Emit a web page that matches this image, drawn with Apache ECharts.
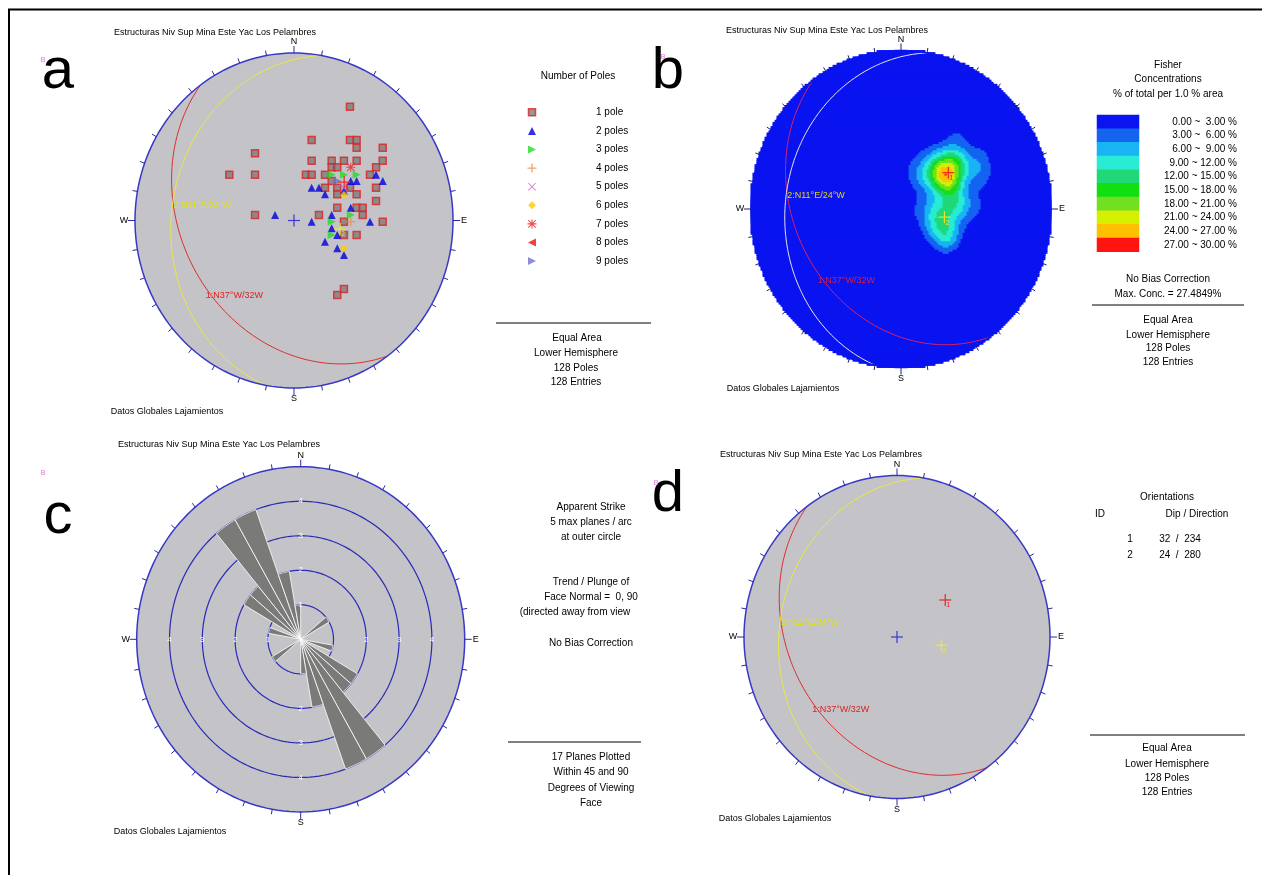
<!DOCTYPE html>
<html><head><meta charset="utf-8">
<script src="https://cdn.jsdelivr.net/npm/echarts@6/dist/echarts.min.js"></script>
<style>html,body{margin:0;padding:0;background:#fff}#c{width:1262px;height:875px}</style>
</head><body><div id="c"></div><script>
// ---------------- DATA ----------------
// pole positions, normalised equal-area projection coords (x east, y north), grouped by number of poles
const poles1 = [[0.352,0.679],[0.111,0.481],[0.352,0.481],[0.394,0.481],[0.394,0.435],[0.558,0.435],[-0.245,0.401],
 [0.111,0.357],[0.237,0.357],[0.314,0.357],[0.394,0.357],[0.558,0.357],[0.237,0.318],[0.272,0.318],[0.516,0.318],
 [-0.407,0.273],[-0.245,0.273],[0.075,0.273],[0.111,0.273],[0.195,0.273],[0.478,0.273],[0.237,0.236],[0.352,0.196],
 [0.195,0.196],[0.272,0.196],[0.516,0.196],[0.272,0.156],[0.394,0.156],[0.516,0.116],[0.272,0.076],[0.394,0.076],
 [0.432,0.076],[-0.245,0.033],[0.157,0.033],[0.432,0.033],[0.314,-0.007],[0.558,-0.007],[0.314,-0.087],[0.394,-0.087],
 [0.314,-0.409],[0.272,-0.445]];
const poles2 = [[0.516,0.273],[0.558,0.236],[0.111,0.196],[0.157,0.196],[0.195,0.156],[0.357,0.236],[0.394,0.236],
 [0.357,0.076],[-0.119,0.033],[0.237,0.033],[0.111,-0.007],[0.478,-0.007],[0.237,-0.047],[0.272,-0.087],[0.195,-0.127],
 [0.272,-0.166],[0.314,-0.206],[0.314,0.176]];
const poles3 = [[0.237,0.273],[0.314,0.273],[0.394,0.273],[0.357,0.033],[0.237,-0.007],[0.237,-0.087]];
const poles4 = [[0.357,-0.007]];
const poles5 = [[0.314,0.194]];
const poles6 = [[0.314,0.152],[0.314,-0.166]];
const poles7 = [[0.357,0.318]];
const poles8 = [];
const poles9 = [[0.272,0.236]];
const poleLegendLabels = ['1 pole','2 poles','3 poles','4 poles','5 poles','6 poles','7 poles','8 poles','9 poles'];

// planes (dip / dip direction)
const planeIds = [1, 2];
const planeDips = [32, 24];
const planeDirs = [234, 280];
const planeLabels = ['1:N37°W/32W', '2:N11°E/24°W'];

// Fisher concentration classes
const concLevels = [0,3,6,9,12,15,18,21,24,27,30];
const concLabels = ['0.00 ~  3.00 %','3.00 ~  6.00 %','6.00 ~  9.00 %','9.00 ~ 12.00 %','12.00 ~ 15.00 %',
 '15.00 ~ 18.00 %','18.00 ~ 21.00 %','21.00 ~ 24.00 %','24.00 ~ 27.00 %','27.00 ~ 30.00 %'];
const concColors = ['#0a14f0','#1464f0','#18b4f4','#28ecd4','#20d878','#10e010','#70e020','#d4f000','#ffc000','#ff1410'];
const fisherK = 120;

// rose diagram (apparent strike, 10 deg bins, bidirectional)
const roseBinStart = [280,300,310,320,330,340,350,50];
const roseCounts   = [1,2,2,4,4,2,1,1];
const roseBinWidth = 10;
const roseMax = 5;
const roseRingValues = [1,2,3,4];

// ---------------- helpers ----------------
const rad = Math.PI/180;
const FONT = '"Liberation Sans", Arial, sans-serif';
function proj(trend, plunge){ const th=(90-plunge)*rad; const r=Math.SQRT2*Math.sin(th/2); return [r*Math.sin(trend*rad), r*Math.cos(trend*rad)]; }
function greatCircle(dd, dip){
  const pts=[], s=(dd-90)*rad, d=dd*rad, dp=dip*rad;
  for(let a=0;a<=180;a+=1){ const ar=a*rad;
    const vn=Math.cos(ar)*Math.cos(s)+Math.sin(ar)*Math.cos(dp)*Math.cos(d);
    const ve=Math.cos(ar)*Math.sin(s)+Math.sin(ar)*Math.cos(dp)*Math.sin(d);
    const vd=Math.sin(ar)*Math.sin(dp);
    pts.push(proj(Math.atan2(ve,vn)/rad, Math.asin(Math.min(1,vd))/rad)); }
  return pts;
}
function toVec(p){ const x=p[0],y=p[1]; const r=Math.hypot(x,y); if(r<1e-9) return [0,0,1];
  const th=2*Math.asin(Math.min(1,r/Math.SQRT2)); const s=Math.sin(th); return [s*x/r, s*y/r, Math.cos(th)]; }
const poleGroups=[poles1,poles2,poles3,poles4,poles5,poles6,poles7,poles8,poles9];
const allPoles=[]; poleGroups.forEach((g,i)=>g.forEach(p=>allPoles.push({v:toVec(p),w:i+1})));
const Ntot = allPoles.reduce((s,p)=>s+p.w,0);
function density(v){ let s=0; for(const p of allPoles){ const c=v[0]*p.v[0]+v[1]*p.v[1]+v[2]*p.v[2];
  s+=p.w*(Math.exp(fisherK*(c-1))+Math.exp(fisherK*(-c-1))); } return fisherK*s/Ntot; }

const CIRC = Array.from({length:181},(_,i)=>[Math.sin(i*2*rad), Math.cos(i*2*rad)]);
const TICK_ANGLES = Array.from({length:36},(_,i)=>i*10);
const CARD = ['N','E','S','W'];

const PANELS = {
  a:{cx:294, cy:220.5, rx:159, ry:167.5},
  b:{cx:901, cy:209, rx:150, ry:158.5},
  c:{cx:300.7, cy:639.3, rx:164, ry:172.6},
  d:{cx:897, cy:637, rx:153, ry:161.5}
};
const grids=[], xAxes=[], yAxes=[], series=[];
function addValueGrid(p){ const gi=grids.length;
  grids.push({left:p.cx-p.rx, top:p.cy-p.ry, width:2*p.rx, height:2*p.ry});
  xAxes.push({type:'value',gridIndex:gi,min:-1,max:1,show:false});
  yAxes.push({type:'value',gridIndex:gi,min:-1,max:1,show:false}); return gi; }
function cs(gi, data, renderItem, z){ return {type:'custom', coordinateSystem:'cartesian2d', xAxisIndex:gi, yAxisIndex:gi, data, renderItem, z, silent:true, animation:false}; }
function txtStyle(text, color, size, align, valign){ return {text, fill:color, font:size+'px '+FONT, align, verticalAlign:valign, textAlign:align, textVerticalAlign:valign}; }

function circleFill(gi, fill){ series.push(cs(gi,[[0,0]],(p,api)=>({type:'polygon',shape:{points:CIRC.map(q=>api.coord(q))},style:{fill}}),1)); }
function circleOutline(gi, stroke, lw){ series.push(cs(gi,[[0,0]],(p,api)=>({type:'polygon',shape:{points:CIRC.map(q=>api.coord(q))},style:{fill:'none',stroke,lineWidth:lw}}),8)); }
function ticks(gi, stroke){
  series.push(cs(gi, TICK_ANGLES.map(a=>[a,0]), (params,api)=>{
    const ang=api.value(0), a=ang*rad, c0=api.coord([0,0]), pt=api.coord([Math.sin(a),Math.cos(a)]);
    const dx=pt[0]-c0[0], dy=pt[1]-c0[1], L=Math.hypot(dx,dy), len=(ang%90===0)?7:5;
    return {type:'line',shape:{x1:pt[0],y1:pt[1],x2:pt[0]+dx/L*len,y2:pt[1]+dy/L*len},style:{stroke,lineWidth:1}};
  },8));
  series.push(cs(gi, [[0,0],[90,0],[180,0],[270,0]], (params,api)=>{
    const a=api.value(0)*rad, c0=api.coord([0,0]), pt=api.coord([Math.sin(a),Math.cos(a)]);
    const dx=pt[0]-c0[0], dy=pt[1]-c0[1], L=Math.hypot(dx,dy);
    return {type:'text', x:pt[0]+dx/L*11, y:pt[1]+dy/L*11, style:txtStyle(CARD[params.dataIndex],'#000',9,'center','middle')};
  },8));
}
function planes(gi, colors, labelColors){
  planeDips.forEach((dip,i)=>{
    series.push({type:'line', xAxisIndex:gi, yAxisIndex:gi, data:greatCircle(planeDirs[i],dip), showSymbol:false, symbol:'none',
      lineStyle:{color:colors[i],width:1}, z:5, silent:true, clip:false, animation:false});
  });
  series.push(cs(gi, planeDips.map((dip,i)=>proj(planeDirs[i],dip)), (params,api)=>{
    const pt=api.coord([api.value(0),api.value(1)]);
    return {type:'text', x:pt[0], y:pt[1]+3, style:txtStyle(planeLabels[params.dataIndex], labelColors[params.dataIndex], 9, 'left','top')};
  },7));
}
function crosses(gi, colors, withCenter, centerColor){
  const pts = planeDips.map((dip,i)=>proj((planeDirs[i]+180)%360, 90-dip));
  series.push(cs(gi, pts, (params,api)=>{
    const c=api.coord([api.value(0),api.value(1)]), col=colors[params.dataIndex];
    return {type:'group', children:[
      {type:'line',shape:{x1:c[0]-6,y1:c[1],x2:c[0]+6,y2:c[1]},style:{stroke:col,lineWidth:1.2}},
      {type:'line',shape:{x1:c[0],y1:c[1]-6,x2:c[0],y2:c[1]+6},style:{stroke:col,lineWidth:1.2}},
      {type:'text',x:c[0]+1,y:c[1]+2,style:txtStyle(String(planeIds[params.dataIndex]),col,7,'left','top')}]};
  },9));
  if(withCenter) series.push(cs(gi, [[0,0]], (params,api)=>{ const c=api.coord([0,0]);
    return {type:'group',children:[
      {type:'line',shape:{x1:c[0]-6,y1:c[1],x2:c[0]+6,y2:c[1]},style:{stroke:centerColor,lineWidth:1.2}},
      {type:'line',shape:{x1:c[0],y1:c[1]-6,x2:c[0],y2:c[1]+6},style:{stroke:centerColor,lineWidth:1.2}}]}; },9));
}

// marker styles for number of poles
const PLUS='path://M4.3,0H5.7V10H4.3Z M0,4.3H10V5.7H0Z';
const XMARK='path://M0.8,0L10,9.2L9.2,10L0,0.8Z M9.2,0L10,0.8L0.8,10L0,9.2Z';
const AST='path://M4.4,0H5.6V10H4.4Z M0,4.4H10V5.6H0Z M1.2,0.4L9.6,8.8L8.8,9.6L0.4,1.2Z M8.8,0.4L9.6,1.2L1.2,9.6L0.4,8.8Z';
const markerStyles = [
  {symbol:'rect', size:7, color:'#7d7d7d', border:'#dd2222', bw:1.5},
  {symbol:'triangle', size:8, color:'#0000dd'},
  {symbol:'triangle', size:8, rotate:-90, color:'#22dd22'},
  {symbol:PLUS, size:9, color:'#f08848'},
  {symbol:XMARK, size:8, color:'#cc55cc'},
  {symbol:'diamond', size:8, color:'#ffcc00'},
  {symbol:AST, size:9, color:'#ee2222'},
  {symbol:'triangle', size:8, rotate:90, color:'#ee1111'},
  {symbol:'triangle', size:8, rotate:-90, color:'#7272cc'}
];
function mStyle(m){ return {color:m.color, borderColor:m.border||m.color, borderWidth:m.bw||0}; }

// ---------------- PANEL A ----------------
const gA = addValueGrid(PANELS.a);
circleFill(gA,'#c4c3c8');
planes(gA, ['#e02a2a','#eaea40'], ['#dd2222','#e4e400']);
poleGroups.forEach((g,i)=>{ const m=markerStyles[i];
  series.push({type:'scatter', xAxisIndex:gA, yAxisIndex:gA, data:g, symbol:m.symbol, symbolSize:m.size, symbolRotate:m.rotate||0,
    symbolKeepAspect:true, itemStyle:mStyle(m), z:6, silent:true, animation:false}); });
crosses(gA, ['#ee2222','#eaea30'], true, '#3a3ad0');
circleOutline(gA,'#3838c8',1.5);
ticks(gA,'#2a2aa0');

// legend grid for panel a
const gAL = grids.length;
grids.push({left:527, top:103, width:10, height:167.4});
xAxes.push({type:'category', gridIndex:gAL, data:['m'], show:false});
yAxes.push({type:'category', gridIndex:gAL, data:poleLegendLabels, inverse:true, position:'right',
  axisLine:{show:false}, axisTick:{show:false}, splitLine:{show:false},
  axisLabel:{align:'left', margin:59, fontSize:10, color:'#000', fontFamily:FONT}});
series.push({type:'scatter', xAxisIndex:gAL, yAxisIndex:gAL, silent:true, animation:false,
  data: poleLegendLabels.map((l,i)=>({value:[0,i], symbol:markerStyles[i].symbol, symbolSize:markerStyles[i].size,
    symbolRotate:markerStyles[i].rotate||0, symbolKeepAspect:true, itemStyle:mStyle(markerStyles[i])}))});

// ---------------- PANEL B ----------------
const NB = 150, CELL = 2/NB;
const heatData=[];
for(let j=0;j<NB;j++){ const y=-1+(j+0.5)*CELL; for(let i=0;i<NB;i++){ const x=-1+(i+0.5)*CELL;
  if(x*x+y*y>1.012) continue; heatData.push([x,y,density(toVec([x,y]))]); } }
const gB = addValueGrid(PANELS.b);
const sHeat = series.length;
series.push({type:'custom', coordinateSystem:'cartesian2d', xAxisIndex:gB, yAxisIndex:gB, data:heatData, silent:true,
  animation:false, progressive:0, z:1,
  renderItem:(params,api)=>{ const c=api.coord([api.value(0),api.value(1)]); const s=api.size([CELL,CELL]);
    return {type:'rect', shape:{x:c[0]-s[0]/2-0.45, y:c[1]-s[1]/2-0.45, width:s[0]+0.9, height:s[1]+0.9}, style:{fill:api.visual('color')}}; }});
planes(gB, ['#dd2060','#e8e8e8'], ['#d02050','#e8d800']);
crosses(gB, ['#ee2222','#e4e430'], false);
circleOutline(gB,'#0a14f0',1.5);
ticks(gB,'#1c1c70');
// concentration legend
const gBL = grids.length;
grids.push({left:1097, top:115, width:42, height:136.7});
xAxes.push({type:'category', gridIndex:gBL, data:[''], show:false});
yAxes.push({type:'category', gridIndex:gBL, data:concLabels, inverse:true, position:'right',
  axisLine:{show:false}, axisTick:{show:false}, splitLine:{show:false},
  axisLabel:{align:'right', margin:98, fontSize:10, color:'#000', fontFamily:FONT}});
const sHeatLeg = series.length;
series.push({type:'heatmap', xAxisIndex:gBL, yAxisIndex:gBL, silent:true, animation:false, progressive:0,
  data: concLabels.map((l,i)=>[0,i,(concLevels[i]+concLevels[i+1])/2]), itemStyle:{borderWidth:0}});

// ---------------- PANEL C (rose) ----------------
const gC = addValueGrid(PANELS.c);
circleFill(gC,'#c4c3c8');
series.push(cs(gC, roseRingValues.map(v=>[v,0]), (params,api)=>{ const r=api.value(0)/roseMax;
  return {type:'polygon',shape:{points:CIRC.map(q=>api.coord([q[0]*r,q[1]*r]))},style:{fill:'none',stroke:'#2a2ab8',lineWidth:1.2}}; },2));
const roseData=[];
roseBinStart.forEach((s,i)=>{ roseData.push([s, s+roseBinWidth, roseCounts[i]]); roseData.push([(s+180)%360, (s+180)%360+roseBinWidth, roseCounts[i]]); });
series.push(cs(gC, roseData, (params,api)=>{
  const a1=api.value(0), a2=api.value(1), r=api.value(2)/roseMax; const pts=[api.coord([0,0])];
  for(let k=0;k<=12;k++){ const a=(a1+(a2-a1)*k/12)*rad; pts.push(api.coord([r*Math.sin(a), r*Math.cos(a)])); }
  return {type:'polygon',shape:{points:pts},style:{fill:'#7a7b79',stroke:'#ffffff',lineWidth:0.8}}; },3));
// ring labels: [value, direction(0=N,1=E,2=S,3=W)]
const ringLabelPos=[];
[[0,[1,2,3,4]],[1,[2,3,4]],[2,[2,3,4]],[3,[1,2,3,4]]].forEach(([dir,vals])=>vals.forEach(v=>ringLabelPos.push([v,dir])));
series.push(cs(gC, ringLabelPos, (params,api)=>{ const v=api.value(0), dir=api.value(1), a=dir*90*rad, r=v/roseMax;
  const pt=api.coord([r*Math.sin(a), r*Math.cos(a)]);
  return {type:'text', x:pt[0], y:pt[1], style:txtStyle(String(v),'#ffffff',8,'center','middle')}; },4));
circleOutline(gC,'#3838c8',1.5);
ticks(gC,'#2a2aa0');

// ---------------- PANEL D ----------------
const gD = addValueGrid(PANELS.d);
circleFill(gD,'#c4c3c8');
planes(gD, ['#e02a2a','#eaea40'], ['#dd2222','#e4e400']);
crosses(gD, ['#ee2222','#eaea30'], true, '#3a3ad0');
circleOutline(gD,'#3838c8',1.5);
ticks(gD,'#2a2aa0');

// ---------------- TEXT ----------------
const TITLE='Estructuras Niv Sup Mina Este Yac Los Pelambres', FOOT='Datos Globales Lajamientos';
const texts = [
  [TITLE,215,33,9],[TITLE,827,31,9],[TITLE,219,445,9],[TITLE,821,455,9],
  [FOOT,167,412,9],[FOOT,783,389,9],[FOOT,170,832,9],[FOOT,775,819,9],
  ['Number of Poles',578,76,10],['Equal Area',577,338,10],['Lower Hemisphere',576,353,10],['128 Poles',576,368,10],['128 Entries',576,382,10],
  ['Fisher',1168,65,10],['Concentrations',1168,79,10],['% of total per 1.0 % area',1168,94,10],
  ['No Bias Correction',1168,279,10],['Max. Conc. = 27.4849%',1168,294,10],
  ['Equal Area',1168,320,10],['Lower Hemisphere',1168,335,10],['128 Poles',1168,348,10],['128 Entries',1168,362,10],
  ['Apparent Strike',591,507,10],['5 max planes / arc',591,522,10],['at outer circle',591,537,10],
  ['Trend / Plunge of',591,582,10],['Face Normal =  0, 90',591,597,10],['(directed away from view',575,612,10],
  ['No Bias Correction',591,643,10],['17 Planes Plotted',591,757,10],['Within 45 and 90',591,772,10],['Degrees of Viewing',591,788,10],['Face',591,803,10],
  ['Orientations',1167,497,10],['ID',1100,514,10],['Dip / Direction',1197,514,10],
  ['Equal Area',1167,748,10],['Lower Hemisphere',1167,764,10],['128 Poles',1167,778,10],['128 Entries',1167,792,10]
];
planeIds.forEach((id,i)=>{ texts.push([String(id),1130,539+16*i,10]); texts.push([planeDips[i]+'  /  '+planeDirs[i],1180,539+16*i,10]); });
const graphic = [
  {type:'polyline', shape:{points:[[9,875],[9,9.5],[1262,9.5]]}, style:{stroke:'#000',lineWidth:2,fill:null}},
  {type:'line', shape:{x1:496,y1:323,x2:651,y2:323}, style:{stroke:'#000',lineWidth:1}},
  {type:'line', shape:{x1:1092,y1:305,x2:1244,y2:305}, style:{stroke:'#000',lineWidth:1}},
  {type:'line', shape:{x1:508,y1:742,x2:641,y2:742}, style:{stroke:'#000',lineWidth:1}},
  {type:'line', shape:{x1:1090,y1:735,x2:1245,y2:735}, style:{stroke:'#000',lineWidth:1}}
];
texts.forEach(t=>graphic.push({type:'text', x:t[1], y:t[2], style:txtStyle(t[0],'#000',t[3],'center','middle')}));
[['a',58,72],['b',668,72],['c',58,517],['d',668,495]].forEach(t=>graphic.push({type:'text',x:t[1],y:t[2],style:txtStyle(t[0],'#000',58,'center','middle')}));
[[43,60],[663,57],[43,473],[656,483]].forEach(t=>graphic.push({type:'text',x:t[0],y:t[1],style:txtStyle('B','#e070e0',7,'center','middle')}));

const pieces = concColors.map((c,i)=> i<concColors.length-1 ? {gte:concLevels[i], lt:concLevels[i+1], color:c} : {gte:concLevels[i], lte:10000, color:c});
const chart = echarts.init(document.getElementById('c'), null, {renderer:'canvas'});
chart.setOption({
  animation:false, backgroundColor:'#ffffff',
  grid:grids, xAxis:xAxes, yAxis:yAxes,
  visualMap:[{type:'piecewise', show:false, seriesIndex:[sHeat,sHeatLeg], dimension:2, pieces}],
  series, graphic
});
</script></body></html>
